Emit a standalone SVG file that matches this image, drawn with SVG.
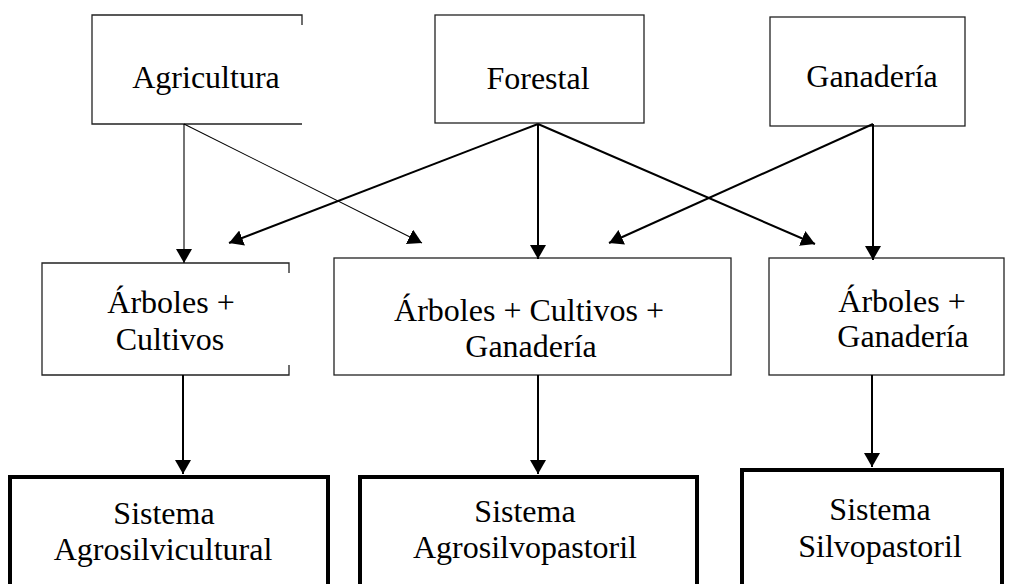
<svg xmlns="http://www.w3.org/2000/svg" width="1012" height="584" viewBox="0 0 1012 584">
<style>
  .bx{fill:#fff;stroke:#222;stroke-width:1.3}
  .bxt{fill:#fff;stroke:#000;stroke-width:4}
  .t{font-family:"Liberation Serif","Times New Roman","DejaVu Serif",serif;font-size:32px;fill:#000;text-anchor:middle}
  .c{fill:none;stroke:#000;stroke-width:2}
  .ct{fill:none;stroke:#000;stroke-width:1.1}
</style>
<defs>
  <marker id="ah" viewBox="0 0 14 16" refX="14" refY="8" markerWidth="14" markerHeight="16" markerUnits="userSpaceOnUse" orient="auto">
    <path d="M0,0 L14,8 L0,16 z" fill="#000"/>
  </marker>
</defs>
<rect width="1012" height="584" fill="#fff"/>

<g id="agricultura">
  <path d="M302,25 V15 H92 V124 H302" fill="#fff" stroke="#222" stroke-width="1.3"/>
  <text class="t" x="206" y="88">Agricultura</text>
</g>
<g id="forestal">
  <rect class="bx" x="435" y="15" width="209" height="108"/>
  <text class="t" x="538" y="89">Forestal</text>
</g>
<g id="ganaderia">
  <rect class="bx" x="770" y="17" width="195" height="109"/>
  <text class="t" x="872" y="87">Ganadería</text>
</g>

<g id="arboles-cultivos">
  <path d="M289,273 V263 H42 V375 H289 V365" fill="#fff" stroke="#222" stroke-width="1.3"/>
  <text class="t" x="171" y="313">Árboles +</text>
  <text class="t" x="170" y="350">Cultivos</text>
</g>
<g id="arboles-cultivos-ganaderia">
  <rect class="bx" x="334" y="258" width="397" height="117"/>
  <text class="t" x="529" y="321">Árboles + Cultivos +</text>
  <text class="t" x="531" y="357">Ganadería</text>
</g>
<g id="arboles-ganaderia">
  <rect class="bx" x="769" y="258" width="235" height="117"/>
  <text class="t" x="902" y="312">Árboles +</text>
  <text class="t" x="903" y="347">Ganadería</text>
</g>

<g id="sistema-agrosilvicultural">
  <rect class="bxt" x="10" y="477" width="318" height="130"/>
  <text class="t" x="164" y="524">Sistema</text>
  <text class="t" x="163" y="560">Agrosilvicultural</text>
</g>
<g id="sistema-agrosilvopastoril">
  <rect class="bxt" x="360" y="477" width="337" height="130"/>
  <text class="t" x="525" y="522">Sistema</text>
  <text class="t" x="525" y="558">Agrosilvopastoril</text>
</g>
<g id="sistema-silvopastoril">
  <rect class="bxt" x="742" y="470" width="260" height="140"/>
  <text class="t" x="880" y="520">Sistema</text>
  <text class="t" x="880" y="557">Silvopastoril</text>
</g>

<g id="connectors">
  <line class="ct" x1="184" y1="124" x2="184" y2="263" marker-end="url(#ah)"/>
  <line class="ct" x1="184" y1="124" x2="422" y2="243" marker-end="url(#ah)"/>
  <line class="c" x1="538" y1="124" x2="229" y2="243" marker-end="url(#ah)"/>
  <line class="c" x1="538" y1="124" x2="538" y2="259" marker-end="url(#ah)"/>
  <line class="c" x1="538" y1="124" x2="815" y2="244" marker-end="url(#ah)"/>
  <line class="c" x1="873" y1="124" x2="609" y2="243" marker-end="url(#ah)"/>
  <line class="c" x1="873" y1="124" x2="873" y2="260" marker-end="url(#ah)"/>
  <line class="c" x1="183" y1="375" x2="183" y2="474" marker-end="url(#ah)"/>
  <line class="c" x1="538" y1="375" x2="538" y2="474" marker-end="url(#ah)"/>
  <line class="c" x1="872" y1="375" x2="872" y2="467" marker-end="url(#ah)"/>
</g>
</svg>
